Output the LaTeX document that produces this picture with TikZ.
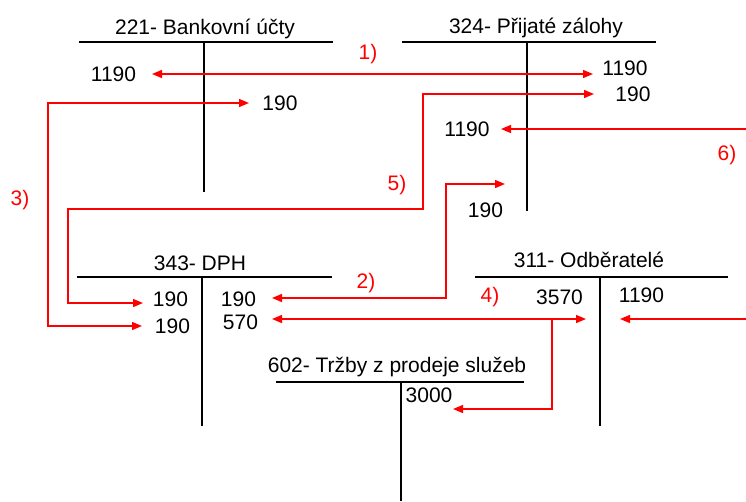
\documentclass[tikz,border=0pt]{standalone}
\usepackage{fontspec}
\setmainfont{Liberation Sans}
\usetikzlibrary{arrows.meta}
\begin{document}
\begin{tikzpicture}[x=1pt,y=-1pt,
  acc/.style={line width=1.4pt, black},
  conn/.style={red, line width=1.4pt},
  tip/.style={-{Triangle[length=10pt,width=8pt]}},
  tips/.style={{Triangle[length=10pt,width=8pt]}-{Triangle[length=10pt,width=8pt]}},
  txt/.style={font=\fontsize{21}{25}\selectfont, inner sep=0pt},
  ttl/.style={txt, anchor=base},
  lab/.style={txt, text=red}]
\useasboundingbox (0,0) rectangle (746,501);

% --- account 221
\node[ttl] (t221) at (205,34) {221- Bankovní účty};
\draw[acc] (79,42) -- (333,42);
\draw[acc] (204,42) -- (204,192);
\node[txt] (n221a) at (113.5,74) {1190};
\node[txt] (n221b) at (280,103) {190};

% --- account 324
\node[ttl] (t324) at (536,33) {324- Přijaté zálohy};
\draw[acc] (402,42) -- (656,42);
\draw[acc] (527,42) -- (527,211);
\node[txt] (n324a) at (625,68) {1190};
\node[txt] (n324b) at (633,94) {190};
\node[txt] (n324c) at (467,129) {1190};
\node[txt] (n324d) at (485.5,210) {190};

% --- account 343
\node[ttl] (t343) at (200,270) {343- DPH};
\draw[acc] (77,277) -- (332,277);
\draw[acc] (202,277) -- (202,426);
\node[txt] (n343a) at (170.5,299) {190};
\node[txt] (n343b) at (172.5,326) {190};
\node[txt] (n343c) at (238.5,299) {190};
\node[txt] (n343d) at (240.5,322) {570};

% --- account 311
\node[ttl] (t311) at (589,267) {311- Odběratelé};
\draw[acc] (475,277) -- (728,277);
\draw[acc] (600,277) -- (600,426);
\node[txt] (n311a) at (559.5,297) {3570};
\node[txt] (n311b) at (641.5,295) {1190};

% --- account 602
\node[ttl] (t602) at (397,372) {602- Tržby z prodeje služeb};
\draw[acc] (276,382) -- (524,382);
\draw[acc] (401,382) -- (401,501);
\node[txt] (n602a) at (429,395) {3000};

% --- labels
\node[lab] (l1) at (368,54) {1)};
\node[lab] (l2) at (366,283) {2)};
\node[lab] (l3) at (20,200) {3)};
\node[lab] (l4) at (490,297) {4)};
\node[lab] (l5) at (397,185) {5)};
\node[lab] (l6) at (727,155) {6)};

% --- connector points
\coordinate (a1l) at (152,74);
\coordinate (a1r) at (593,74);

\coordinate (a3t1) at (249,103);
\coordinate (a3c1) at (48,103);
\coordinate (a3c2) at (48,326);
\coordinate (a3t2) at (142,326);

\coordinate (a5t1) at (594,94);
\coordinate (a5c1) at (423,94);
\coordinate (a5c2) at (423,209);
\coordinate (a5c3) at (68,209);
\coordinate (a5c4) at (68,303);
\coordinate (a5t2) at (143,303);

\coordinate (a2t1) at (505,184);
\coordinate (a2c1) at (446,184);
\coordinate (a2c2) at (446,298);
\coordinate (a2t2) at (272,298);

\coordinate (a4l) at (272,319);
\coordinate (a4r) at (586,319);
\coordinate (a4b) at (552,319);
\coordinate (a4c) at (552,409);
\coordinate (a4t) at (453,409);

\coordinate (a6s1) at (746,129);
\coordinate (a6t1) at (501,129);
\coordinate (a6s2) at (746,319);
\coordinate (a6t2) at (620,319);

% --- connectors
\draw[conn, tips] (a1l) -- (a1r);
\draw[conn, tips] (a3t1) -- (a3c1) -- (a3c2) -- (a3t2);
\draw[conn, tips] (a5t1) -- (a5c1) -- (a5c2) -- (a5c3) -- (a5c4) -- (a5t2);
\draw[conn, tips] (a2t1) -- (a2c1) -- (a2c2) -- (a2t2);
\draw[conn, tips] (a4l) -- (a4r);
\draw[conn, tip] (a4b) -- (a4c) -- (a4t);
\draw[conn, tip] (a6s1) -- (a6t1);
\draw[conn, tip] (a6s2) -- (a6t2);
\end{tikzpicture}
\end{document}
